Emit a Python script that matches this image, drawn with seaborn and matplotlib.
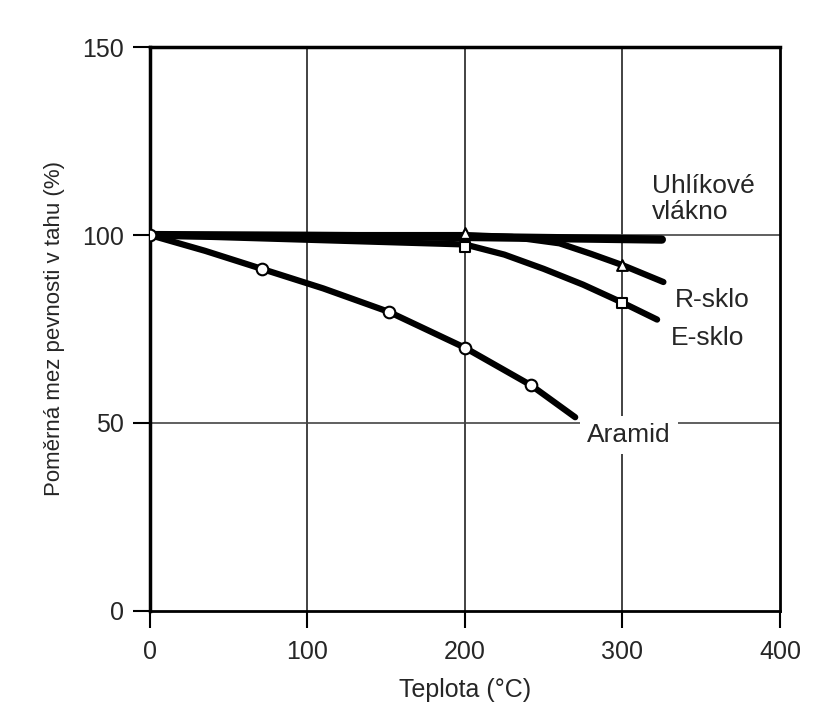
import matplotlib
matplotlib.use("Agg")
import matplotlib.pyplot as plt
import seaborn as sns

sns.set_style("white")
plt.rcParams['font.family'] = ['Liberation Sans', 'DejaVu Sans']

# Data
carbon_x = [0, 100, 200, 325]
carbon_y = [100, 99.8, 99.5, 98.8]

r_x = [0, 200, 230, 260, 280, 300, 326]
r_y = [100, 100, 99.5, 97.8, 95.0, 92.0, 87.5]
r_mx = [200, 300]
r_my = [100.5, 92.0]

e_x = [0, 200, 225, 250, 275, 300, 322]
e_y = [100, 97.5, 94.8, 91.0, 86.8, 82.0, 77.5]
e_mx = [200, 300]
e_my = [96.8, 82.0]

ar_x = [0, 35, 71, 110, 152, 200, 242, 270]
ar_y = [100, 95.8, 91.0, 85.8, 79.5, 70.0, 60.0, 51.5]
ar_mx = [0, 71, 152, 200, 242]
ar_my = [100, 91.0, 79.5, 70.0, 60.0]

xticks = [0, 100, 200, 300, 400]
yticks = [0, 50, 100, 150]

fig = plt.figure(figsize=(8.15, 7.27), dpi=100)
ax = fig.add_axes([0.184, 0.160, 0.773, 0.775])

# grid lines
for gx in [100, 200, 300]:
    ax.axvline(gx, color="#222222", lw=1.2, zorder=1)
for gy in [50, 100]:
    ax.axhline(gy, color="#444444", lw=1.2, zorder=1)

sns.lineplot(x=ar_x, y=ar_y, ax=ax, color="black", lw=4.5, sort=False, zorder=3)
sns.lineplot(x=e_x, y=e_y, ax=ax, color="black", lw=4.5, sort=False, zorder=3)
sns.lineplot(x=r_x, y=r_y, ax=ax, color="black", lw=4.5, sort=False, zorder=3)
sns.lineplot(x=carbon_x, y=carbon_y, ax=ax, color="black", lw=6, sort=False, zorder=3)

sns.scatterplot(x=ar_mx, y=ar_my, ax=ax, marker="o", s=70, facecolor="white",
                edgecolor="black", linewidth=1.5, zorder=5)
sns.scatterplot(x=e_mx, y=e_my, ax=ax, marker="s", s=60, facecolor="white",
                edgecolor="black", linewidth=1.5, zorder=5)
sns.scatterplot(x=r_mx, y=r_my, ax=ax, marker="^", s=60, facecolor="white",
                edgecolor="black", linewidth=1.5, zorder=6)

ax.set_xlim(0, 400)
ax.set_ylim(0, 150)
ax.set_xticks(xticks)
ax.set_yticks(yticks)
ax.tick_params(axis="x", direction="out", length=12, width=1.5, labelsize=18, pad=9, color="black")
ax.tick_params(axis="y", direction="out", length=12, width=1.5, labelsize=18, pad=7, color="black")
ax.tick_params(bottom=True, left=True)

for side, w in [("left", 2.5), ("top", 2.5), ("right", 2.0), ("bottom", 2.0)]:
    ax.spines[side].set_visible(True)
    ax.spines[side].set_color("black")
    ax.spines[side].set_linewidth(w)

ax.set_xlabel("Teplota (°C)", fontsize=18, labelpad=10)
ax.set_ylabel("Poměrná mez pevnosti v tahu (%)", fontsize=16, labelpad=12)

ax.text(319, 109.6, "Uhlíkové\nvlákno", fontsize=19, ha="left", va="center", linespacing=1.15,
        zorder=4)
ax.text(333, 82.7, "R-sklo", fontsize=19, ha="left", va="center", zorder=4)
ax.text(331, 72.7, "E-sklo", fontsize=19, ha="left", va="center", zorder=4)
ax.text(277.5, 46.8, "Aramid", fontsize=19, ha="left", va="center", zorder=4,
        bbox=dict(facecolor="white", edgecolor="none", pad=5))

fig.savefig("out.png", dpi=100)
